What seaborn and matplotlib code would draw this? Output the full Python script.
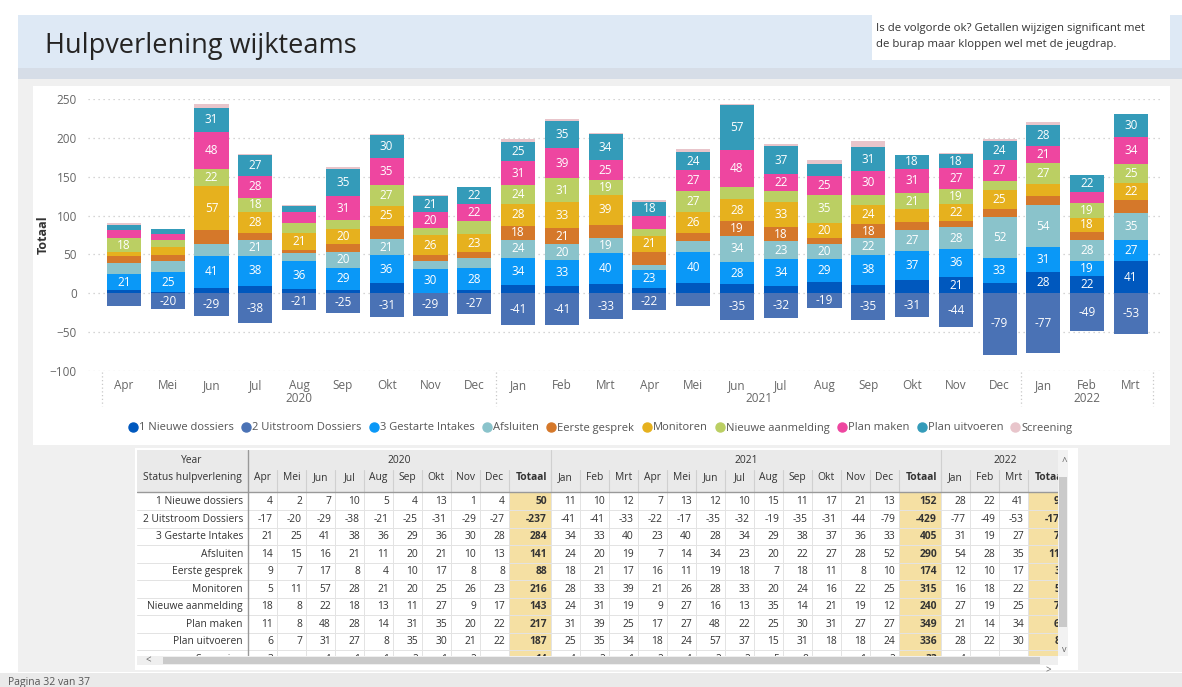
import matplotlib
matplotlib.use("Agg")
import numpy as np
import matplotlib.pyplot as plt
import seaborn as sns
from matplotlib.patches import Rectangle
from matplotlib.lines import Line2D

# ------------------------------------------------------------
# DATA
# ------------------------------------------------------------
months = ["Apr", "Mei", "Jun", "Jul", "Aug", "Sep", "Okt", "Nov", "Dec",
          "Jan", "Feb", "Mrt", "Apr", "Mei", "Jun", "Jul", "Aug", "Sep", "Okt", "Nov", "Dec",
          "Jan", "Feb", "Mrt"]
years = [2020] * 9 + [2021] * 12 + [2022] * 3

nieuwe_dossiers = [4, 2, 7, 10, 5, 4, 13, 1, 4,
                   11, 10, 12, 7, 13, 12, 10, 15, 11, 17, 21, 13,
                   28, 22, 41]
uitstroom = [-17, -20, -29, -38, -21, -25, -31, -29, -27,
             -41, -41, -33, -22, -17, -35, -32, -19, -35, -31, -44, -79,
             -77, -49, -53]
gestarte_intakes = [21, 25, 41, 38, 36, 29, 36, 30, 28,
                    34, 33, 40, 23, 40, 28, 34, 29, 38, 37, 36, 33,
                    31, 19, 27]
afsluiten = [14, 15, 16, 21, 11, 20, 21, 10, 13,
             24, 20, 19, 7, 14, 34, 23, 20, 22, 27, 28, 52,
             54, 28, 35]
eerste_gesprek = [9, 7, 17, 8, 4, 10, 17, 8, 8,
                  18, 21, 17, 16, 11, 19, 18, 7, 18, 11, 8, 10,
                  12, 10, 17]
monitoren = [5, 11, 57, 28, 21, 20, 25, 26, 23,
             28, 33, 39, 21, 26, 28, 33, 20, 24, 16, 22, 25,
             16, 18, 22]
nieuwe_aanmelding = [18, 8, 22, 18, 13, 11, 27, 9, 17,
                     24, 31, 19, 9, 27, 16, 13, 35, 14, 21, 19, 12,
                     27, 19, 25]
plan_maken = [11, 8, 48, 28, 14, 31, 35, 20, 22,
              31, 39, 25, 17, 27, 48, 22, 25, 30, 31, 27, 27,
              21, 14, 34]
plan_uitvoeren = [6, 7, 31, 27, 8, 35, 30, 21, 22,
                  25, 35, 34, 18, 24, 57, 37, 15, 31, 18, 18, 24,
                  28, 22, 30]
screening = [3, 0, 4, 1, 1, 2, 1, 2, 0,
             4, 2, 1, 2, 4, 2, 2, 5, 8, 0, 1, 2,
             4, 0, 0]

series_names = ["1 Nieuwe dossiers", "2 Uitstroom Dossiers", "3 Gestarte Intakes", "Afsluiten",
                "Eerste gesprek", "Monitoren", "Nieuwe aanmelding", "Plan maken",
                "Plan uitvoeren", "Screening"]
series_vals = [nieuwe_dossiers, uitstroom, gestarte_intakes, afsluiten, eerste_gesprek,
               monitoren, nieuwe_aanmelding, plan_maken, plan_uitvoeren, screening]
series_colors = ["#0058BE", "#4A72B5", "#0A98F7", "#8AC3CB", "#D5782A",
                 "#E6B11E", "#BBCF63", "#EE46A0", "#349BB9", "#E8C5CB"]

# stacking order above zero (Uitstroom goes below zero)
pos_order = [0, 2, 3, 4, 5, 6, 7, 8, 9]

# ------------------------------------------------------------
# FIGURE + PAGE BACKGROUND
# ------------------------------------------------------------
sns.set_theme(style="white")
plt.rcParams["font.family"] = ["Open Sans", "DejaVu Sans"]

W, H = 1182, 687
fig = plt.figure(figsize=(W / 100, H / 100), dpi=100)

bg = fig.add_axes([0, 0, 1, 1], zorder=0)
bg.set_xlim(0, W)
bg.set_ylim(H, 0)
bg.axis("off")

bg.add_patch(Rectangle((0, 0), W, H, fc="white", lw=0))
bg.add_patch(Rectangle((18, 15), W - 18, 657, fc="#F0F0F0", lw=0))
bg.add_patch(Rectangle((18, 15), W - 18, 53, fc="#DEE9F5", lw=0))
bg.add_patch(Rectangle((18, 68), W - 18, 11, fc="#D6DDE7", lw=0))
bg.add_patch(Rectangle((872, 15), 298, 45, fc="white", lw=0))
bg.add_patch(Rectangle((33, 86), 1137, 359, fc="white", lw=0))
bg.add_patch(Rectangle((135, 448), 943, 222, fc="white", lw=0))
bg.add_patch(Rectangle((0, 673), W, 14, fc="#EAEAEA", lw=0))

bg.text(45, 46, "Hulpverlening wijkteams", fontsize=19.5, color="#252423", va="center")
bg.text(876, 29, "Is de volgorde ok? Getallen wijzigen significant met", fontsize=8.2, color="#333333", va="center")
bg.text(876, 45, "de burap maar kloppen wel met de jeugdrap.", fontsize=8.2, color="#333333", va="center")
bg.text(8, 682, "Pagina 32 van 37", fontsize=7.5, color="#555555", va="center")

# scrollbars of the table
bg.add_patch(Rectangle((137, 656), 921, 9, fc="#EFEFEF", lw=0))
bg.add_patch(Rectangle((163, 657), 877, 7, fc="#CACACA", lw=0))
bg.text(148, 661, "<", fontsize=7, color="#666666", ha="center", va="center")
bg.text(1048, 671, ">", fontsize=7, color="#666666", ha="center", va="center")
bg.add_patch(Rectangle((1058, 450), 10, 206, fc="#F2F2F2", lw=0))
bg.add_patch(Rectangle((1059, 477), 8, 150, fc="#CACACA", lw=0))
bg.text(1064, 462, "^", fontsize=7, color="#666666", ha="center", va="center")
bg.text(1064, 650, "v", fontsize=6.5, color="#666666", ha="center", va="center")

# ------------------------------------------------------------
# STACKED BAR CHART
# ------------------------------------------------------------
ax = fig.add_axes([88 / W, 1 - 371 / H, 1072 / W, 272 / H], zorder=1)
ax.patch.set_alpha(0)

idx = list(range(len(months)))
pos_data = np.array([series_vals[k] for k in pos_order])
cum = np.cumsum(pos_data, axis=0)

# draw tallest cumulative first, then overlay the lower ones
for layer in range(len(pos_order) - 1, -1, -1):
    k = pos_order[layer]
    sns.barplot(x=idx, y=cum[layer], color=series_colors[k], width=0.78,
                saturation=1, errorbar=None, linewidth=0, ax=ax)
sns.barplot(x=idx, y=uitstroom, color=series_colors[1], width=0.78,
            saturation=1, errorbar=None, linewidth=0, ax=ax)

# data labels (Power BI hides the small ones)
for layer, k in enumerate(pos_order):
    for i in idx:
        v = series_vals[k][i]
        if abs(v) >= 18:
            bottom = cum[layer][i] - v
            ax.text(i, bottom + v / 2, str(v), color="white", fontsize=8.5,
                    ha="center", va="center")
for i in idx:
    v = uitstroom[i]
    if abs(v) >= 18:
        ax.text(i, v / 2, str(v), color="white", fontsize=8.5, ha="center", va="center")

ax.set_ylim(-100, 250)
ax.set_xlim((88 - 124) / 43.78, (1160 - 124) / 43.78)
ax.set_yticks([-100, -50, 0, 50, 100, 150, 200, 250])
ax.set_axisbelow(True)
ax.yaxis.grid(True, linestyle=(0, (1, 3)), color="#C8C8C8", linewidth=0.9)
ax.xaxis.grid(False)
ax.set_xticks(idx)
ax.set_xticklabels(months)
ax.tick_params(axis="x", length=0, pad=6, labelsize=8.5, labelcolor="#666666")
ax.tick_params(axis="y", length=0, pad=8, labelsize=8.5, labelcolor="#666666")
ax.set_ylabel("Totaal", fontsize=9, fontweight="bold", color="#333333")
ax.yaxis.set_label_coords((50 - 88) / 1072, 0.5)
ax.set_xlabel("")
sns.despine(ax=ax, left=True, bottom=True)

# year labels + dotted group separators
trans = ax.get_xaxis_transform()
for yr in sorted(set(years)):
    pos = [i for i in idx if years[i] == yr]
    ax.text((pos[0] + pos[-1]) / 2, -0.1, str(yr), transform=trans, ha="center", va="center",
            fontsize=8.5, color="#666666")
for sep in [-0.5, 8.5, 20.5, 23.5]:
    ax.plot([sep, sep], [-0.005, -0.13], transform=trans, clip_on=False,
            color="#C8C8C8", linestyle=(0, (1, 2)), linewidth=0.9)

# legend
handles = [Line2D([], [], marker="o", linestyle="", markersize=6.5,
                  markerfacecolor=c, markeredgecolor=c) for c in series_colors]
fig.legend(handles, series_names, loc="center", bbox_to_anchor=(600 / W, 1 - 428 / H),
           ncol=10, frameon=False, fontsize=8, handletextpad=0.05, columnspacing=0.6,
           handlelength=1.0, labelcolor="#555555")

# ------------------------------------------------------------
# MATRIX TABLE
# ------------------------------------------------------------
tx0, tx1, ty0, ty1 = 137, 1058, 450, 656
tab = fig.add_axes([tx0 / W, 1 - ty1 / H, (tx1 - tx0) / W, (ty1 - ty0) / H], zorder=2)
tab.set_xlim(tx0, tx1)
tab.set_ylim(ty1, ty0)
tab.axis("off")

label_right = 248
mw, tw = 29, 42
row_top, row_h = 493, 17.5

cols = []
year_spans = []
x = label_right
for yr in sorted(set(years)):
    start = x
    for i in idx:
        if years[i] == yr:
            cols.append((x, x + mw, "m", i))
            x += mw
    cols.append((x, x + tw, "t", yr))
    x += tw
    year_spans.append((yr, start, x))

txt = dict(fontsize=7.4, color="#333333", va="center", clip_on=True)

# header background
tab.add_patch(Rectangle((tx0, ty0), x - tx0, 42, fc="#EAEAEA", lw=0))
tab.text(192, 461, "Year", ha="center", **txt)
tab.text(192, 478, "Status hulpverlening", ha="center", **txt)
for yr, a, b in year_spans:
    tab.text((a + b) / 2, 461, str(yr), ha="center", **txt)
    tab.plot([b, b], [ty0, 492], color="#D0D0D0", lw=0.8)
for a, b, kind, ref in cols:
    if kind == "m":
        tab.text((a + b) / 2, 478, months[ref], ha="center", **txt)
    else:
        tab.text(b - 4, 478, "Totaal", ha="right", fontweight="bold", **txt)
    tab.plot([b, b], [470, 492], color="#D0D0D0", lw=0.8)

# body
for r, name in enumerate(series_names):
    vals = series_vals[r]
    top = row_top + r * row_h
    yc = top + row_h / 2
    tab.text(label_right - 5, yc, name, ha="right", **txt)
    for a, b, kind, ref in cols:
        if kind == "m":
            v = vals[ref]
            s = "" if v == 0 else str(v)
            tab.text(b - 4, yc, s, ha="right", **txt)
        else:
            tot = sum(vals[i] for i in idx if years[i] == ref)
            tab.add_patch(Rectangle((a, top), b - a, row_h, fc="#F5E0A3", lw=0))
            tab.text(b - 4, yc, str(tot), ha="right", fontweight="bold", **txt)
    tab.plot([tx0, x], [top + row_h, top + row_h], color="#E3E3E3", lw=0.7)

for a, b, kind, ref in cols:
    tab.plot([b, b], [492, ty1], color="#E3E3E3", lw=0.7)
tab.plot([tx0, x], [492, 492], color="#999999", lw=1.0)
tab.plot([label_right, label_right], [ty0, ty1], color="#999999", lw=1.0)

fig.savefig("out.png", dpi=100)
